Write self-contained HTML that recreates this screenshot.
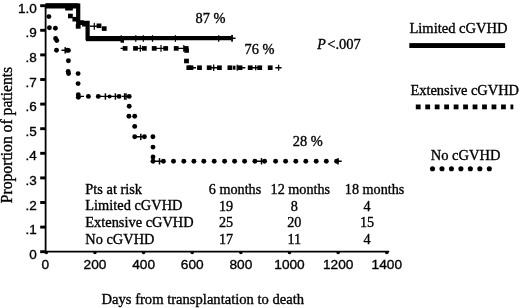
<!DOCTYPE html>
<html><head><meta charset="utf-8"><style>
html,body{margin:0;padding:0;background:#fff;}
body{width:520px;height:308px;overflow:hidden;}
svg{display:block;}
text{fill:#000;stroke:#000;stroke-width:0.35px;}
svg{filter:grayscale(1) blur(0.3px);}
</style></head><body>
<svg width="520" height="308" viewBox="0 0 520 308">
<path d="M45.6 5 V252.6" stroke="#000" stroke-width="1.8" fill="none"/>
<path d="M44.8 251.7 H389" stroke="#000" stroke-width="1.8" fill="none"/>
<path d="M386 250.9 L390 251.7 L386 252.8 Z" fill="#000"/>
<rect x="40.2" y="250.25" width="5.6" height="2.9" fill="#000"/>
<rect x="40.2" y="225.65" width="5.6" height="2.9" fill="#000"/>
<rect x="40.2" y="201.05" width="5.6" height="2.9" fill="#000"/>
<rect x="40.2" y="176.45" width="5.6" height="2.9" fill="#000"/>
<rect x="40.2" y="151.85" width="5.6" height="2.9" fill="#000"/>
<rect x="40.2" y="127.25" width="5.6" height="2.9" fill="#000"/>
<rect x="40.2" y="102.65" width="5.6" height="2.9" fill="#000"/>
<rect x="40.2" y="78.05" width="5.6" height="2.9" fill="#000"/>
<rect x="40.2" y="53.45" width="5.6" height="2.9" fill="#000"/>
<rect x="40.2" y="28.85" width="5.6" height="2.9" fill="#000"/>
<rect x="40.2" y="4.25" width="5.6" height="2.9" fill="#000"/>
<ellipse cx="46.30" cy="252.8" rx="1.8" ry="1.4" fill="#000"/>
<ellipse cx="94.94" cy="252.8" rx="1.8" ry="1.4" fill="#000"/>
<ellipse cx="143.58" cy="252.8" rx="1.8" ry="1.4" fill="#000"/>
<ellipse cx="192.22" cy="252.8" rx="1.8" ry="1.4" fill="#000"/>
<ellipse cx="240.86" cy="252.8" rx="1.8" ry="1.4" fill="#000"/>
<ellipse cx="289.50" cy="252.8" rx="1.8" ry="1.4" fill="#000"/>
<ellipse cx="338.14" cy="252.8" rx="1.8" ry="1.4" fill="#000"/>
<ellipse cx="386.78" cy="252.8" rx="1.8" ry="1.4" fill="#000"/>
<text x="36.7" y="258.70" text-anchor="end" style="font-family:'Liberation Sans',sans-serif;font-size:13.5px">0</text>
<text x="36.7" y="234.10" text-anchor="end" style="font-family:'Liberation Sans',sans-serif;font-size:13.5px">.1</text>
<text x="36.7" y="209.50" text-anchor="end" style="font-family:'Liberation Sans',sans-serif;font-size:13.5px">.2</text>
<text x="36.7" y="184.90" text-anchor="end" style="font-family:'Liberation Sans',sans-serif;font-size:13.5px">.3</text>
<text x="36.7" y="160.30" text-anchor="end" style="font-family:'Liberation Sans',sans-serif;font-size:13.5px">.4</text>
<text x="36.7" y="135.70" text-anchor="end" style="font-family:'Liberation Sans',sans-serif;font-size:13.5px">.5</text>
<text x="36.7" y="111.10" text-anchor="end" style="font-family:'Liberation Sans',sans-serif;font-size:13.5px">.6</text>
<text x="36.7" y="86.50" text-anchor="end" style="font-family:'Liberation Sans',sans-serif;font-size:13.5px">.7</text>
<text x="36.7" y="61.90" text-anchor="end" style="font-family:'Liberation Sans',sans-serif;font-size:13.5px">.8</text>
<text x="36.7" y="37.30" text-anchor="end" style="font-family:'Liberation Sans',sans-serif;font-size:13.5px">.9</text>
<text x="36.7" y="12.70" text-anchor="end" style="font-family:'Liberation Sans',sans-serif;font-size:13.5px">1.0</text>
<text x="45.30" y="268.8" text-anchor="middle" style="font-family:'Liberation Sans',sans-serif;font-size:13.7px">0</text>
<text x="94.94" y="268.8" text-anchor="middle" style="font-family:'Liberation Sans',sans-serif;font-size:13.7px">200</text>
<text x="143.58" y="268.8" text-anchor="middle" style="font-family:'Liberation Sans',sans-serif;font-size:13.7px">400</text>
<text x="192.22" y="268.8" text-anchor="middle" style="font-family:'Liberation Sans',sans-serif;font-size:13.7px">600</text>
<text x="240.86" y="268.8" text-anchor="middle" style="font-family:'Liberation Sans',sans-serif;font-size:13.7px">800</text>
<text x="289.50" y="268.8" text-anchor="middle" style="font-family:'Liberation Sans',sans-serif;font-size:13.7px">1000</text>
<text x="338.14" y="268.8" text-anchor="middle" style="font-family:'Liberation Sans',sans-serif;font-size:13.7px">1200</text>
<text x="386.78" y="268.8" text-anchor="middle" style="font-family:'Liberation Sans',sans-serif;font-size:13.7px">1400</text>
<text transform="translate(12.4,203.2) rotate(-90)" style="font-family:'Liberation Serif',serif;font-size:15.65px">Proportion of patients</text>
<text x="101.5" y="304" style="font-family:'Liberation Serif',serif;font-size:14.6px">Days from transplantation to death</text>
<text x="409.4" y="33.3" style="font-family:'Liberation Serif',serif;font-size:14.55px">Limited cGVHD</text>
<rect x="409.3" y="43.1" width="95.8" height="4.9" fill="#000"/>
<text x="410.4" y="95.3" style="font-family:'Liberation Serif',serif;font-size:14.45px">Extensive cGVHD</text>
<rect x="415.80" y="104.5" width="4.8" height="4.8" fill="#000"/>
<rect x="425.27" y="104.5" width="4.8" height="4.8" fill="#000"/>
<rect x="434.74" y="104.5" width="4.8" height="4.8" fill="#000"/>
<rect x="444.21" y="104.5" width="4.8" height="4.8" fill="#000"/>
<rect x="453.68" y="104.5" width="4.8" height="4.8" fill="#000"/>
<rect x="463.15" y="104.5" width="4.8" height="4.8" fill="#000"/>
<rect x="472.62" y="104.5" width="4.8" height="4.8" fill="#000"/>
<rect x="482.09" y="104.5" width="4.8" height="4.8" fill="#000"/>
<rect x="491.56" y="104.5" width="4.8" height="4.8" fill="#000"/>
<rect x="501.03" y="104.5" width="4.8" height="4.8" fill="#000"/>
<rect x="510.50" y="104.5" width="2.8" height="4.8" fill="#000"/>
<text x="430.7" y="160.4" style="font-family:'Liberation Serif',serif;font-size:14.5px">No cGVHD</text>
<circle cx="432.50" cy="168.7" r="2.55" fill="#000"/>
<circle cx="441.97" cy="168.7" r="2.55" fill="#000"/>
<circle cx="451.44" cy="168.7" r="2.55" fill="#000"/>
<circle cx="460.91" cy="168.7" r="2.55" fill="#000"/>
<circle cx="470.38" cy="168.7" r="2.55" fill="#000"/>
<circle cx="479.85" cy="168.7" r="2.55" fill="#000"/>
<circle cx="489.32" cy="168.7" r="2.55" fill="#000"/>
<text x="317.3" y="49.2" style="font-family:'Liberation Serif',serif;font-size:14px;font-style:italic">P</text>
<text x="327.3" y="49.2" style="font-family:'Liberation Serif',serif;font-size:14.5px">&lt;.007</text>
<text x="195.6" y="23.3" style="font-family:'Liberation Serif',serif;font-size:14.4px">87 %</text>
<text x="244.6" y="54" style="font-family:'Liberation Serif',serif;font-size:14.4px">76 %</text>
<text x="292.7" y="145.9" style="font-family:'Liberation Serif',serif;font-size:14.4px">28 %</text>
<text x="85.3" y="193.6" style="font-family:'Liberation Serif',serif;font-size:14.4px">Pts at risk</text>
<text x="85.3" y="210.2" style="font-family:'Liberation Serif',serif;font-size:14.4px">Limited cGVHD</text>
<text x="85.3" y="227.3" style="font-family:'Liberation Serif',serif;font-size:14.4px">Extensive cGVHD</text>
<text x="85.3" y="244.0" style="font-family:'Liberation Serif',serif;font-size:14.4px">No cGVHD</text>
<text x="208.8" y="193.6" style="font-family:'Liberation Serif',serif;font-size:14.2px">6 months</text>
<text x="270.6" y="193.6" style="font-family:'Liberation Serif',serif;font-size:14.2px">12 months</text>
<text x="344.8" y="193.6" style="font-family:'Liberation Serif',serif;font-size:14.2px">18 months</text>
<text x="226.0" y="210.7" text-anchor="middle" style="font-family:'Liberation Serif',serif;font-size:14.2px">19</text>
<text x="294.3" y="210.7" text-anchor="middle" style="font-family:'Liberation Serif',serif;font-size:14.2px">8</text>
<text x="367.0" y="210.7" text-anchor="middle" style="font-family:'Liberation Serif',serif;font-size:14.2px">4</text>
<text x="226.0" y="227.3" text-anchor="middle" style="font-family:'Liberation Serif',serif;font-size:14.2px">25</text>
<text x="294.3" y="227.3" text-anchor="middle" style="font-family:'Liberation Serif',serif;font-size:14.2px">20</text>
<text x="367.0" y="227.3" text-anchor="middle" style="font-family:'Liberation Serif',serif;font-size:14.2px">15</text>
<text x="226.0" y="244.0" text-anchor="middle" style="font-family:'Liberation Serif',serif;font-size:14.2px">17</text>
<text x="294.3" y="244.0" text-anchor="middle" style="font-family:'Liberation Serif',serif;font-size:14.2px">11</text>
<text x="367.0" y="244.0" text-anchor="middle" style="font-family:'Liberation Serif',serif;font-size:14.2px">4</text>
<path d="M45.5 5.6 H78.2 V22.8 H87.6 V38.2 H231.5" stroke="#000" stroke-width="4.2" fill="none" stroke-linejoin="miter" stroke-linecap="butt"/>
<rect x="120.70" y="35.2" width="1.2" height="6.6" fill="#000"/>
<rect x="135.20" y="35.2" width="1.2" height="6.6" fill="#000"/>
<rect x="142.70" y="35.2" width="1.2" height="6.6" fill="#000"/>
<rect x="151.90" y="35.2" width="1.2" height="6.6" fill="#000"/>
<rect x="174.80" y="35.2" width="1.2" height="6.6" fill="#000"/>
<rect x="218.10" y="35.2" width="1.2" height="6.6" fill="#000"/>
<path d="M231 38.3 H235.6" stroke="#000" stroke-width="1.5"/><rect x="231.2" y="34.9" width="1.7" height="6.8" fill="#000"/>
<rect x="86" y="38.6" width="36" height="2.6" fill="#000"/>
<rect x="45.5" y="3.3" width="33" height="5.2" fill="#000"/>
<rect x="65.2" y="6" width="7.6" height="4.5" fill="#000"/>
<rect x="68.00" y="13.70" width="4.8" height="4.6" fill="#000"/>
<rect x="72.40" y="16.90" width="4.8" height="4.6" fill="#000"/>
<rect x="75.80" y="24.10" width="4.8" height="4.6" fill="#000"/>
<rect x="79.10" y="20.30" width="4.8" height="4.6" fill="#000"/>
<rect x="82.10" y="21.90" width="4.8" height="4.6" fill="#000"/>
<rect x="96.60" y="23.50" width="4.8" height="4.6" fill="#000"/>
<rect x="101.80" y="26.30" width="4.8" height="4.6" fill="#000"/>
<path d="M90 26.2 H97" stroke="#000" stroke-width="1.4"/><rect x="93.7" y="22.8" width="1.2" height="7" fill="#000"/>
<rect x="122.70" y="46.10" width="4.8" height="4.6" fill="#000"/>
<rect x="133.10" y="46.10" width="4.8" height="4.6" fill="#000"/>
<rect x="141.90" y="46.10" width="4.8" height="4.6" fill="#000"/>
<rect x="151.80" y="46.10" width="4.8" height="4.6" fill="#000"/>
<rect x="163.30" y="46.10" width="4.8" height="4.6" fill="#000"/>
<rect x="173.80" y="46.10" width="4.8" height="4.6" fill="#000"/>
<rect x="183.80" y="46.10" width="4.8" height="4.6" fill="#000"/>
<path d="M120.5 48.4 H126 M135 48.4 H146 M155 48.4 H166 M176 48.4 H186" stroke="#000" stroke-width="1.4"/>
<rect x="139.70" y="45.0" width="1.2" height="6.8" fill="#000"/>
<rect x="160.40" y="45.0" width="1.2" height="6.8" fill="#000"/>
<rect x="183.20" y="45.0" width="1.2" height="6.8" fill="#000"/>
<rect x="184.10" y="58.70" width="4.8" height="4.6" fill="#000"/>
<rect x="184.30" y="48.40" width="4.6" height="4.4" fill="#000"/>
<rect x="120.60" y="39.70" width="3.4" height="3.0" fill="#000"/>
<rect x="186.40" y="65.40" width="4.8" height="4.6" fill="#000"/>
<rect x="188.60" y="65.40" width="4.8" height="4.6" fill="#000"/>
<rect x="197.10" y="65.40" width="4.8" height="4.6" fill="#000"/>
<rect x="206.80" y="65.40" width="4.8" height="4.6" fill="#000"/>
<rect x="217.00" y="65.40" width="4.8" height="4.6" fill="#000"/>
<rect x="227.50" y="65.40" width="4.8" height="4.6" fill="#000"/>
<rect x="237.60" y="65.40" width="4.8" height="4.6" fill="#000"/>
<rect x="247.80" y="65.40" width="4.8" height="4.6" fill="#000"/>
<rect x="257.30" y="65.40" width="4.8" height="4.6" fill="#000"/>
<rect x="267.80" y="65.40" width="4.8" height="4.6" fill="#000"/>
<rect x="232.90" y="65.70" width="2.6" height="4.0" fill="#000"/>
<path d="M190 67.7 H196 M209 67.7 H220 M240 67.7 H245.3 M250 67.7 H258 M275.3 67.7 H281.6" stroke="#000" stroke-width="1.5"/>
<rect x="213.05" y="64.50" width="1.3" height="6.4" fill="#000"/>
<rect x="236.55" y="64.70" width="1.3" height="6.0" fill="#000"/>
<rect x="255.05" y="65.10" width="1.3" height="5.2" fill="#000"/>
<rect x="277.95" y="64.70" width="1.3" height="6.0" fill="#000"/>
<circle cx="48.90" cy="16.60" r="2.45" fill="#000"/>
<circle cx="49.40" cy="27.80" r="2.45" fill="#000"/>
<circle cx="55.40" cy="28.20" r="2.45" fill="#000"/>
<circle cx="55.60" cy="38.40" r="2.45" fill="#000"/>
<circle cx="56.80" cy="40.60" r="2.45" fill="#000"/>
<circle cx="56.50" cy="50.20" r="2.45" fill="#000"/>
<circle cx="67.20" cy="50.20" r="2.45" fill="#000"/>
<circle cx="68.40" cy="50.40" r="2.45" fill="#000"/>
<circle cx="68.40" cy="60.80" r="2.45" fill="#000"/>
<circle cx="68.20" cy="71.40" r="2.45" fill="#000"/>
<circle cx="68.60" cy="73.60" r="2.45" fill="#000"/>
<circle cx="78.10" cy="73.60" r="2.45" fill="#000"/>
<circle cx="78.10" cy="83.60" r="2.45" fill="#000"/>
<circle cx="78.30" cy="94.80" r="2.45" fill="#000"/>
<circle cx="78.30" cy="97.20" r="2.45" fill="#000"/>
<circle cx="88.40" cy="96.40" r="2.45" fill="#000"/>
<circle cx="98.30" cy="96.40" r="2.45" fill="#000"/>
<circle cx="119.10" cy="96.40" r="2.45" fill="#000"/>
<circle cx="109.60" cy="96.40" r="2.0" fill="#000"/>
<circle cx="129.20" cy="96.40" r="2.45" fill="#000"/>
<circle cx="129.20" cy="106.20" r="2.45" fill="#000"/>
<circle cx="128.90" cy="116.20" r="2.45" fill="#000"/>
<circle cx="134.70" cy="116.20" r="2.45" fill="#000"/>
<circle cx="134.70" cy="126.40" r="2.45" fill="#000"/>
<circle cx="134.70" cy="136.80" r="2.45" fill="#000"/>
<circle cx="144.40" cy="136.80" r="2.45" fill="#000"/>
<circle cx="152.90" cy="136.80" r="2.45" fill="#000"/>
<circle cx="153.00" cy="147.10" r="2.45" fill="#000"/>
<circle cx="153.00" cy="157.00" r="2.45" fill="#000"/>
<circle cx="153.00" cy="161.20" r="2.45" fill="#000"/>
<circle cx="163.40" cy="161.20" r="2.45" fill="#000"/>
<circle cx="173.50" cy="161.20" r="2.45" fill="#000"/>
<circle cx="183.80" cy="161.20" r="2.45" fill="#000"/>
<circle cx="193.90" cy="161.20" r="2.45" fill="#000"/>
<circle cx="203.80" cy="161.20" r="2.45" fill="#000"/>
<circle cx="214.20" cy="161.20" r="2.45" fill="#000"/>
<circle cx="224.60" cy="161.20" r="2.45" fill="#000"/>
<circle cx="234.60" cy="161.20" r="2.45" fill="#000"/>
<circle cx="244.60" cy="161.20" r="2.45" fill="#000"/>
<circle cx="254.90" cy="161.20" r="2.45" fill="#000"/>
<circle cx="264.60" cy="161.20" r="2.45" fill="#000"/>
<circle cx="275.60" cy="161.20" r="2.45" fill="#000"/>
<circle cx="285.60" cy="161.20" r="2.45" fill="#000"/>
<circle cx="295.80" cy="161.20" r="2.45" fill="#000"/>
<circle cx="305.80" cy="161.20" r="2.45" fill="#000"/>
<circle cx="316.20" cy="161.20" r="2.45" fill="#000"/>
<circle cx="326.30" cy="161.20" r="2.45" fill="#000"/>
<path d="M61.5 50.2 H66 M79 96.4 H84 M100 96.4 H118 M122 96.4 H128 M136 136.8 H144 M155 161.2 H163 M256 161.2 H264 M336 161.2 H341.7" stroke="#000" stroke-width="1.4"/>
<rect x="64.45" y="47.10" width="1.5" height="6.4" fill="#000"/>
<rect x="104.65" y="93.30" width="1.5" height="6.4" fill="#000"/>
<rect x="114.65" y="93.30" width="1.5" height="6.4" fill="#000"/>
<rect x="123.85" y="93.30" width="1.5" height="6.4" fill="#000"/>
<rect x="125.25" y="93.30" width="1.5" height="6.4" fill="#000"/>
<rect x="140.05" y="133.70" width="1.5" height="6.4" fill="#000"/>
<rect x="158.75" y="158.10" width="1.5" height="6.4" fill="#000"/>
<rect x="260.75" y="158.10" width="1.5" height="6.4" fill="#000"/>
<rect x="337.25" y="158.10" width="1.5" height="6.4" fill="#000"/>
<circle cx="336.60" cy="161.30" r="2.45" fill="#000"/>
</svg>
</body></html>
